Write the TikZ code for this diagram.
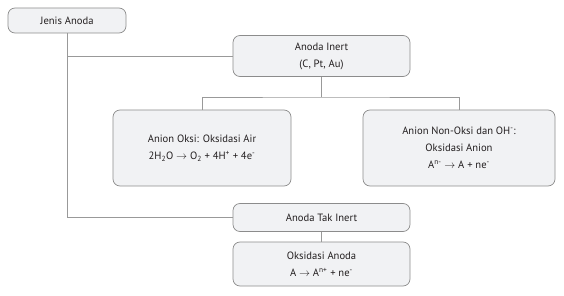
\documentclass[tikz,border=0pt]{standalone}
\usepackage{fontspec}
\setmainfont{PT Sans}
\begin{document}
\begin{tikzpicture}[x=1pt,y=-1pt,
  boxstyle/.style={draw=boxline, fill=boxfill, rounded corners=7pt, line width=0.7pt,
    inner sep=0pt, align=center, text=boxtext, font=\fontsize{10.6}{17}\selectfont},
  conn/.style={draw=connline, line width=0.8pt}]
\definecolor{boxline}{HTML}{8C8C8C}
\definecolor{boxfill}{HTML}{F1F2F4}
\definecolor{connline}{HTML}{999999}
\definecolor{boxtext}{HTML}{231F20}
\useasboundingbox (0,0) rectangle (564,296);
\node[boxstyle, minimum width=118pt, minimum height=25pt] (jenis) at (67,20.5) {Jenis Anoda};
\node[boxstyle, minimum width=177pt, minimum height=41pt] (inert) at (321.5,56) {Anoda Inert\\(C, Pt, Au)};
\node[boxstyle, minimum width=178pt, minimum height=76pt] (oksi) at (202,148)
  {Anion Oksi: Oksidasi Air\\2H\textsubscript{2}O $\rightarrow$ O\textsubscript{2} + 4H\textsuperscript{+} + 4e\textsuperscript{-}};
\node[boxstyle, minimum width=192pt, minimum height=76pt] (nonoksi) at (459,148)
  {Anion Non-Oksi dan OH\textsuperscript{-}:\\Oksidasi Anion\\A\textsuperscript{n-} $\rightarrow$ A + ne\textsuperscript{-}};
\node[boxstyle, minimum width=177pt, minimum height=28pt] (takinert) at (321.5,217.5) {Anoda Tak Inert};
\node[boxstyle, minimum width=177pt, minimum height=44pt] (oksanoda) at (321.5,264)
  {Oksidasi Anoda\\A $\rightarrow$ A\textsuperscript{n+} + ne\textsuperscript{-}};
\coordinate (bus) at (inert.south |- 0,97);
\draw[conn] (jenis.south) |- (takinert.west);
\draw[conn] (jenis.south |- inert.west) -- (inert.west);
\draw[conn] (inert.south) -- (bus);
\draw[conn] (oksi.north) |- (bus) -| (nonoksi.north);
\draw[conn] (takinert.south) -- (oksanoda.north);
\end{tikzpicture}
\end{document}
